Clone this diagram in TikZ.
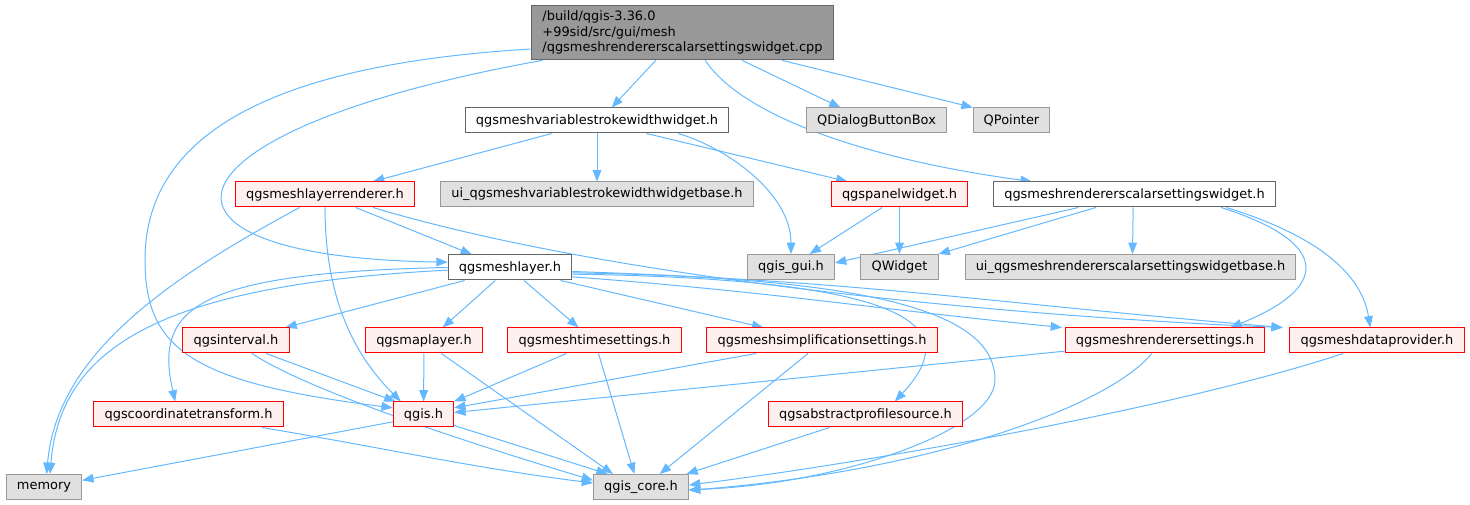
\documentclass[tikz,border=0pt]{standalone}
\usepackage{fontspec}
\setmainfont{DejaVu Sans}
\usetikzlibrary{arrows.meta}
\definecolor{edgeblue}{HTML}{63B8FF}
\definecolor{rootfill}{HTML}{999999}
\definecolor{darkline}{HTML}{666666}
\definecolor{greyfill}{HTML}{E0E0E0}
\definecolor{greyline}{HTML}{999999}
\definecolor{redfill}{HTML}{FFF0F0}
\pgfdeclarelayer{edges}
\pgfsetlayers{edges,main}
\begin{document}
\begin{tikzpicture}[x=0.75pt,y=-0.75pt,font=\fontsize{9.7}{11.6}\selectfont]
		\tikzstyle{BoxStyle}=[rectangle,draw,line width=0.75pt,minimum height=18.75pt,inner xsep=8pt,inner ysep=0pt]
		\tikzstyle{RootStyle}=[BoxStyle,fill=rootfill,draw=darkline,align=left,minimum height=41pt,minimum width=227pt]
		\tikzstyle{WhiteStyle}=[BoxStyle,fill=white,draw=darkline]
		\tikzstyle{RedStyle}=[BoxStyle,fill=redfill,draw=red]
		\tikzstyle{GreyStyle}=[BoxStyle,fill=greyfill,draw=greyline]
		\tikzstyle{EdgeStyle}=[draw=edgeblue,line width=0.75pt,-{Triangle[length=8.5pt,width=6.5pt]}]
		\useasboundingbox (0,0) rectangle (1470,505);
		% top
		\node[RootStyle] (root) at (682.5,32.5) {/build/qgis-3.36.0\\+99sid/src/gui/mesh\\/qgsmeshrendererscalarsettingswidget.cpp};
		\node[WhiteStyle] (vsw) at (597,120.5) {qgsmeshvariablestrokewidthwidget.h};
		\node[GreyStyle] (qdbb) at (876.5,120.5) {QDialogButtonBox};
		\node[GreyStyle] (qptr) at (1011.5,120.5) {QPointer};
		\node[RedStyle] (mlr) at (325,194.5) {qgsmeshlayerrenderer.h};
		\node[GreyStyle] (uivsw) at (597,194.5) {ui\_qgsmeshvariablestrokewidthwidgetbase.h};
		\node[RedStyle] (panel) at (899.5,194.5) {qgspanelwidget.h};
		\node[WhiteStyle] (rssw) at (1134.5,194.5) {qgsmeshrendererscalarsettingswidget.h};
		\node[WhiteStyle] (ml) at (510,267.5) {qgsmeshlayer.h};
		\node[GreyStyle] (gui) at (791,267) {qgis\_gui.h};
		\node[GreyStyle] (qw) at (899.5,267) {QWidget};
		\node[GreyStyle] (uirssw) at (1130.5,267) {ui\_qgsmeshrendererscalarsettingswidgetbase.h};
		\node[RedStyle] (intv) at (236,340.5) {qgsinterval.h};
		\node[RedStyle] (mpl) at (424,340.5) {qgsmaplayer.h};
		\node[RedStyle] (mts) at (594.5,340.5) {qgsmeshtimesettings.h};
		\node[RedStyle] (mss) at (822,340.5) {qgsmeshsimplificationsettings.h};
		\node[RedStyle] (mrs) at (1165,340.5) {qgsmeshrenderersettings.h};
		\node[RedStyle] (mdp) at (1377,340.5) {qgsmeshdataprovider.h};
		\node[RedStyle] (ct) at (188.5,414.5) {qgscoordinatetransform.h};
		\node[RedStyle] (qgis) at (423.5,414.5) {qgis.h};
		\node[RedStyle] (aps) at (865.5,414.5) {qgsabstractprofilesource.h};
		\node[GreyStyle] (memory) at (44,487) {memory};
		\node[GreyStyle] (core) at (641,487) {qgis\_core.h};
		\begin{pgfonlayer}{edges}
		% root
		\draw[EdgeStyle] ([xshift=-20pt]root.south) -- ([xshift=11pt]vsw.north);
		\draw[EdgeStyle] ([xshift=44.6pt]root.south) -- ([xshift=-27pt]qdbb.north);
		\draw[EdgeStyle] ([xshift=74.6pt]root.south) -- ([xshift=-29pt]qptr.north);
		\draw[EdgeStyle] ([xshift=17pt]root.south) .. controls +(40,60) and +(-150,-20) .. ([xshift=-77pt]rssw.north);
		\draw[EdgeStyle] ([xshift=-105pt]root.south) .. controls +(-390,70) and +(-330,-5) .. ([yshift=4pt]ml.west);
		\draw[EdgeStyle] ([yshift=-12.4pt]root.west) .. controls +(-250,15) and +(0,-130) .. (145,260)
			.. controls +(0,90) and +(-200,-25) .. ([yshift=5pt]qgis.west);
		% qgsmeshvariablestrokewidthwidget.h
		\draw[EdgeStyle] ([xshift=-34pt]vsw.south) -- ([xshift=36pt]mlr.north);
		\draw[EdgeStyle] (vsw) -- (uivsw);
		\draw[EdgeStyle] ([xshift=37pt]vsw.south) -- ([xshift=-39pt]panel.north);
		\draw[EdgeStyle] ([xshift=61pt]vsw.south) .. controls +(50,15) and +(0,-60) .. (gui.north);
		% qgsmeshlayerrenderer.h
		\draw[EdgeStyle] ([xshift=-19pt]mlr.south) .. controls +(-130,70) and +(10,-120) .. ([xshift=2pt]memory.north);
		\draw[EdgeStyle] (mlr.south) .. controls +(0,100) and +(-40,-40) .. ([xshift=-17pt]qgis.north);
		\draw[EdgeStyle] ([xshift=23pt]mlr.south) -- ([xshift=-28.5pt]ml.north);
		\draw[EdgeStyle] ([xshift=36pt]mlr.south) .. controls +(250,75) and +(-250,-10) .. ([xshift=-5pt]mdp.north west);
		% qgspanelwidget.h
		\draw[EdgeStyle] ([xshift=-13pt]panel.south) -- ([xshift=14pt]gui.north);
		\draw[EdgeStyle] (panel) -- (qw);
		% qgsmeshrendererscalarsettingswidget.h
		\draw[EdgeStyle] ([xshift=-42pt]rssw.south) -- ([yshift=3pt]gui.east);
		\draw[EdgeStyle] ([xshift=-29pt]rssw.south) -- (qw.north east);
		\draw[EdgeStyle] ([xshift=-1pt]rssw.south) -- ([xshift=1.5pt]uirssw.north);
		\draw[EdgeStyle] ([xshift=65pt]rssw.south) .. controls +(110,35) and +(100,-40) .. ([xshift=49pt]mrs.north);
		\draw[EdgeStyle] ([xshift=69pt]rssw.south) .. controls +(80,25) and +(-10,-60) .. ([xshift=-5pt]mdp.north);
		% qgsmeshlayer.h
		\draw[EdgeStyle] ([xshift=-34pt]ml.south) -- ([xshift=37pt]intv.north);
		\draw[EdgeStyle] ([xshift=-11pt]ml.south) -- ([xshift=14pt]mpl.north);
		\draw[EdgeStyle] ([xshift=10.5pt]ml.south) -- ([xshift=-12pt]mts.north);
		\draw[EdgeStyle] ([xshift=38pt]ml.south) -- ([xshift=-44pt]mss.north);
		\draw[EdgeStyle] ([yshift=-7pt]ml.east) .. controls +(200,15) and +(-200,-20) .. ([xshift=-2pt]mrs.north west);
		\draw[EdgeStyle] ([yshift=-3pt]ml.east) .. controls +(300,10) and +(-300,-25) .. ([xshift=-5pt]mdp.north west);
		\draw[EdgeStyle] ([yshift=-5pt]ml.east) .. controls +(360,5) and +(65,-70) .. ([xshift=22pt]aps.north);
		\draw[EdgeStyle] ([yshift=-4pt]ml.east) .. controls +(330,5) and +(0,-60) .. (995,380)
			.. controls +(0,50) and +(150,-5) .. ([yshift=-2pt]core.east);
		\draw[EdgeStyle] ([yshift=-2pt]ml.west) .. controls +(-300,15) and +(10,-120) .. ([xshift=4.5pt]memory.north);
		\draw[EdgeStyle] ([yshift=0pt]ml.west) .. controls +(-260,5) and +(-20,-90) .. ([xshift=-10pt]ct.north);
		% row three
		\draw[EdgeStyle] ([xshift=22.5pt]intv.south) -- ([xshift=-21pt]qgis.north);
		\draw[EdgeStyle] ([xshift=12pt]intv.south) .. controls +(60,40) and +(-100,-30) .. ([yshift=5pt]core.west);
		\draw[EdgeStyle] (mpl) -- (qgis);
		\draw[EdgeStyle] ([xshift=13pt]mpl.south) -- ([xshift=-21pt]core.north);
		\draw[EdgeStyle] ([xshift=-21pt]mts.south) -- (qgis.north east);
		\draw[EdgeStyle] ([xshift=3pt]mts.south) -- ([xshift=-5pt]core.north);
		\draw[EdgeStyle] ([xshift=-49.5pt]mss.south) -- ([yshift=5pt]qgis.east);
		\draw[EdgeStyle] ([xshift=-10.5pt]mss.south) -- ([xshift=14pt]core.north);
		\draw[EdgeStyle] ([yshift=-8pt]mrs.west) -- ([yshift=1.5pt]qgis.east);
		\draw[EdgeStyle] ([xshift=-10pt]mrs.south) .. controls +(-40,50) and +(250,-20) .. ([yshift=-2.5pt]core.east);
		\draw[EdgeStyle] ([xshift=-25.5pt]mdp.south) .. controls +(-150,50) and +(200,-25) .. ([yshift=1.5pt]core.east);
		% row four
		\draw[EdgeStyle] ([xshift=55pt]ct.south) .. controls +(120,20) and +(-120,-15) .. ([yshift=3pt]core.west);
		\draw[EdgeStyle] ([yshift=-5.5pt]qgis.west) -- ([yshift=5pt]memory.east);
		\draw[EdgeStyle] ([yshift=1.5pt]qgis.south east) -- ([xshift=-25pt]core.north);
		\draw[EdgeStyle] ([xshift=-27pt]aps.south) -- ([xshift=34pt]core.north);
		\end{pgfonlayer}
	\end{tikzpicture}
\end{document}
